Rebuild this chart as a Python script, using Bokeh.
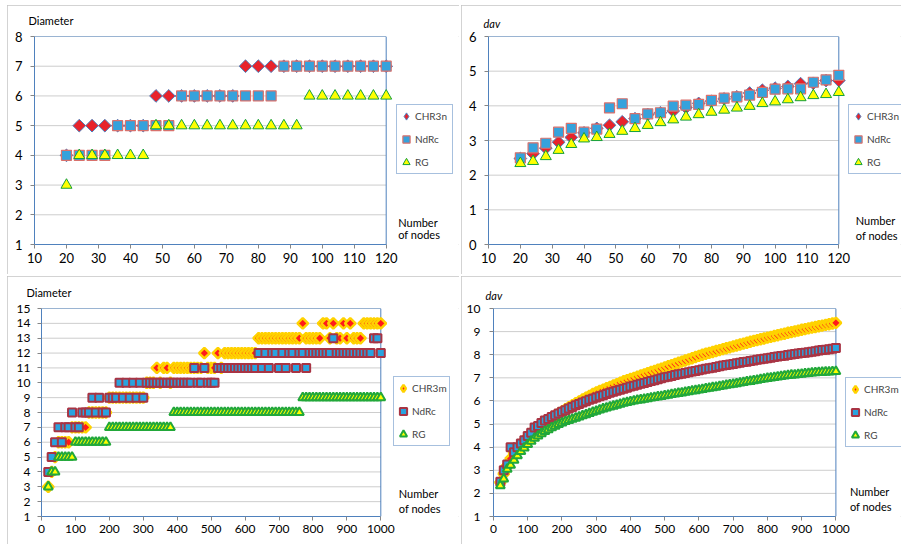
import numpy as np
from bokeh.plotting import figure
from bokeh.models import Range1d, Legend, LegendItem, Label, FixedTicker, Spacer
from bokeh.layouts import column, row
from bokeh.embed import file_html
from bokeh.resources import INLINE

# ---------------- data ----------------
# top charts: number of nodes 20..120 step 4
top_x = [20, 24, 28, 32, 36, 40, 44, 48, 52, 56, 60, 64, 68, 72, 76, 80, 84, 88, 92, 96, 100, 104, 108, 112, 116, 120]

tl_chr3n = [4, 5, 5, 5, 5, 5, 5, 6, 6, 6, 6, 6, 6, 6, 7, 7, 7, 7, 7, 7, 7, 7, 7, 7, 7, 7]
tl_ndrc = [4, 4, 4, 4, 5, 5, 5, 5, 5, 6, 6, 6, 6, 6, 6, 6, 6, 7, 7, 7, 7, 7, 7, 7, 7, 7]
tl_rg = [3, 4, 4, 4, 4, 4, 4, 5, 5, 5, 5, 5, 5, 5, 5, 5, 5, 5, 5, 6, 6, 6, 6, 6, 6, 6]

tr_chr3n = [2.48, 2.62, 2.78, 2.95, 3.09, 3.22, 3.35, 3.44, 3.54, 3.63, 3.75, 3.80, 3.85,
            3.95, 4.07, 4.13, 4.20, 4.26, 4.37, 4.45, 4.51, 4.56, 4.64, 4.65, 4.73, 4.73]
tr_ndrc = [2.50, 2.79, 2.92, 3.24, 3.35, 3.24, 3.33, 3.94, 4.06, 3.63, 3.77, 3.80, 3.99,
           4.02, 4.04, 4.16, 4.22, 4.26, 4.31, 4.39, 4.48, 4.49, 4.49, 4.68, 4.75, 4.88]
tr_rg = [2.34, 2.40, 2.54, 2.72, 2.89, 3.05, 3.09, 3.18, 3.27, 3.35, 3.44, 3.52, 3.60,
         3.68, 3.75, 3.82, 3.88, 3.94, 3.99, 4.07, 4.12, 4.18, 4.24, 4.30, 4.33, 4.39]

# bottom charts: number of nodes 20..1000 step 10
bot_x = list(range(20, 1001, 10))

bl_chr3m = [3, 4, 5, 6, 6, 6, 6, 7, 7, 7,
            7, 7, 8, 8, 8, 8, 8, 8, 9, 9,
            9, 9, 9, 9, 9, 9, 9, 9, 9, 10,
            10, 10, 11, 10, 11, 11, 10, 11, 11, 11,
            11, 11, 11, 11, 11, 11, 12, 11, 11, 11,
            12, 11, 12, 12, 12, 12, 12, 12, 12, 12,
            12, 12, 13, 13, 13, 13, 13, 13, 13, 13,
            13, 13, 13, 13, 13, 14, 13, 13, 13, 13,
            13, 14, 14, 13, 14, 13, 13, 14, 13, 14,
            13, 13, 13, 14, 14, 14, 14, 14, 14]
bl_ndrc = [4, 5, 6, 7, 6, 7, 7, 8, 7, 7,
           8, 8, 8, 9, 8, 9, 8, 8, 9, 9,
           9, 10, 9, 10, 9, 10, 9, 10, 9, 10,
           10, 10, 10, 10, 10, 10, 10, 10, 10, 10,
           10, 10, 10, 11, 10, 10, 11, 10, 10, 10,
           11, 11, 11, 11, 11, 11, 11, 11, 11, 11,
           11, 11, 12, 11, 12, 11, 12, 12, 11, 12,
           11, 12, 12, 11, 12, 12, 11, 12, 12, 12,
           12, 12, 12, 12, 13, 12, 12, 12, 12, 12,
           12, 12, 12, 12, 12, 12, 13, 13, 12]
bl_rg = [3, 4, 4, 5, 5, 5, 5, 5, 6, 6,
         6, 6, 6, 6, 6, 6, 6, 6, 7, 7,
         7, 7, 7, 7, 7, 7, 7, 7, 7, 7,
         7, 7, 7, 7, 7, 7, 7, 8, 8, 8,
         8, 8, 8, 8, 8, 8, 8, 8, 8, 8,
         8, 8, 8, 8, 8, 8, 8, 8, 8, 8,
         8, 8, 8, 8, 8, 8, 8, 8, 8, 8,
         8, 8, 8, 8, 8, 9, 9, 9, 9, 9,
         9, 9, 9, 9, 9, 9, 9, 9, 9, 9,
         9, 9, 9, 9, 9, 9, 9, 9, 9]

br_chr3m = [2.48, 2.85, 3.20, 3.50, 3.75, 3.92, 4.10, 4.28, 4.45, 4.60,
            4.73, 4.85, 4.96, 5.06, 5.16, 5.26, 5.36, 5.46, 5.55, 5.64,
            5.73, 5.82, 5.90, 5.98, 6.06, 6.14, 6.22, 6.30, 6.37, 6.43,
            6.49, 6.55, 6.61, 6.67, 6.73, 6.79, 6.85, 6.90, 6.95, 7.00,
            7.05, 7.10, 7.15, 7.20, 7.25, 7.30, 7.35, 7.40, 7.45, 7.50,
            7.55, 7.60, 7.65, 7.70, 7.75, 7.80, 7.85, 7.90, 7.95, 8.00,
            8.04, 8.08, 8.12, 8.16, 8.20, 8.24, 8.28, 8.32, 8.36, 8.40,
            8.44, 8.48, 8.52, 8.56, 8.60, 8.63, 8.67, 8.70, 8.74, 8.77,
            8.81, 8.84, 8.88, 8.91, 8.95, 8.98, 9.01, 9.04, 9.08, 9.11,
            9.14, 9.17, 9.20, 9.23, 9.26, 9.29, 9.32, 9.35, 9.38]
br_ndrc = [2.50, 3.00, 3.25, 4.00, 3.78, 4.00, 4.16, 4.30, 4.48, 4.62,
           4.85, 4.92, 5.05, 5.15, 5.22, 5.30, 5.38, 5.46, 5.53, 5.60,
           5.67, 5.74, 5.81, 5.87, 5.93, 5.99, 6.05, 6.10, 6.15, 6.20,
           6.25, 6.30, 6.35, 6.40, 6.44, 6.48, 6.53, 6.57, 6.62, 6.66,
           6.70, 6.74, 6.78, 6.82, 6.86, 6.90, 6.94, 6.98, 7.02, 7.05,
           7.08, 7.12, 7.15, 7.18, 7.21, 7.24, 7.27, 7.30, 7.33, 7.36,
           7.39, 7.42, 7.44, 7.47, 7.50, 7.53, 7.55, 7.58, 7.60, 7.63,
           7.65, 7.68, 7.70, 7.73, 7.75, 7.78, 7.80, 7.83, 7.85, 7.87,
           7.90, 7.92, 7.94, 7.96, 7.99, 8.01, 8.03, 8.05, 8.07, 8.09,
           8.11, 8.13, 8.15, 8.18, 8.20, 8.22, 8.24, 8.26, 8.29]
br_rg = [2.34, 2.63, 3.05, 3.22, 3.44, 3.63, 3.82, 3.97, 4.12, 4.26,
         4.39, 4.49, 4.59, 4.68, 4.76, 4.84, 4.91, 4.98, 5.05, 5.11,
         5.16, 5.21, 5.26, 5.31, 5.36, 5.41, 5.46, 5.51, 5.56, 5.61,
         5.66, 5.70, 5.74, 5.78, 5.82, 5.86, 5.90, 5.94, 5.97, 6.00,
         6.03, 6.05, 6.08, 6.10, 6.13, 6.15, 6.18, 6.20, 6.23, 6.25,
         6.28, 6.30, 6.33, 6.35, 6.38, 6.40, 6.43, 6.45, 6.48, 6.50,
         6.53, 6.55, 6.58, 6.60, 6.63, 6.65, 6.68, 6.70, 6.73, 6.75,
         6.78, 6.80, 6.83, 6.85, 6.88, 6.90, 6.93, 6.95, 6.98, 7.00,
         7.02, 7.04, 7.06, 7.08, 7.10, 7.12, 7.13, 7.15, 7.16, 7.18,
         7.19, 7.21, 7.22, 7.23, 7.24, 7.25, 7.26, 7.27, 7.28]

top_xticks = [10, 20, 30, 40, 50, 60, 70, 80, 90, 100, 110, 120]
bot_xticks = [0, 100, 200, 300, 400, 500, 600, 700, 800, 900, 1000]
tl_yticks = [1, 2, 3, 4, 5, 6, 7, 8]
tr_yticks = [0, 1, 2, 3, 4, 5, 6]
bl_yticks = [1, 2, 3, 4, 5, 6, 7, 8, 9, 10, 11, 12, 13, 14, 15]
br_yticks = [1, 2, 3, 4, 5, 6, 7, 8, 9, 10]

# ---------------- styling ----------------
FONT = "Lato"
BLUE = "#4f81bd"
GRID = "#9a9a9a"
TICK = "#868686"
PANEL = "#c4c4c4"

TOP_STYLES = [
    dict(marker="square", angle=np.pi / 4, size=9, fill_color="#e8232b", line_color="#4f81bd", line_width=1),
    dict(marker="square", size=10, fill_color="#35a2dc", line_color="#d9716c", line_width=1.2),
    dict(marker="triangle", size=11, fill_color="#ffff00", line_color="#14a03c", line_width=1),
]
BOT_STYLES = [
    dict(marker="square", angle=np.pi / 4, size=7.5, fill_color="#ff1a1a", line_color="#ffd200", line_width=2.5),
    dict(marker="square", size=8, fill_color="#29a3df", line_color="#a83444", line_width=2),
    dict(marker="triangle", size=9, fill_color="#ffff00", line_color="#22a83a", line_width=2),
]


def panel(w, h, left, top, bottom, xlim, ylim, plot_w, xt, yt, fs, ystand):
    # the frame runs to the right edge so that legend and side texts stay visible;
    # the data area itself is xlim x ylim
    frame_w = w - left
    x_end = xlim[0] + (xlim[1] - xlim[0]) * frame_w / plot_w
    p = figure(width=w, height=h, x_range=Range1d(xlim[0], x_end), y_range=Range1d(*ylim),
               output_backend="svg", toolbar_location=None, tools="",
               min_border_left=left, min_border_right=0, min_border_top=top, min_border_bottom=bottom,
               background_fill_color="white", border_fill_color="white",
               outline_line_color=None,
               styles={"outline": "1px solid " + PANEL, "outline-offset": "-1px"})
    p.xaxis.ticker = FixedTicker(ticks=xt)
    p.yaxis.ticker = FixedTicker(ticks=yt)
    p.xaxis.bounds = xlim
    p.yaxis.bounds = ylim
    for ax in (p.xaxis[0], p.yaxis[0]):
        ax.axis_line_color = BLUE
        ax.major_tick_line_color = TICK
        ax.major_tick_in = 0
        ax.major_tick_out = 4
        ax.minor_tick_line_color = None
        ax.major_label_text_font = FONT
        ax.major_label_text_font_size = fs
        ax.major_label_text_color = "black"
    p.xaxis.major_label_standoff = 4
    p.yaxis.major_label_standoff = ystand
    p.xgrid.visible = False
    p.ygrid.visible = False
    # dotted horizontal gridlines across the data area only
    p.segment(x0=[xlim[0]] * len(yt), x1=[xlim[1]] * len(yt), y0=yt, y1=yt,
              line_color=GRID, line_dash="1 1", line_width=1)
    # border of the data area
    p.quad(left=[xlim[0]], right=[xlim[1]], bottom=[ylim[0]], top=[ylim[1]],
           fill_color=None, line_color=BLUE, line_width=1)
    return p


def add_series(p, x, ys, styles, names, loc):
    rs = [p.scatter(x, y, **st) for y, st in zip(ys, styles)]
    # hidden twin of the diamond series, used only for its (unrotated) legend key
    dst = dict(styles[0])
    dst.pop("angle")
    dst["marker"] = "diamond"
    diamond_key = p.scatter(x, ys[0], visible=False, **dst)
    leg_rs = [diamond_key, rs[1], rs[2]]
    leg = Legend(items=[LegendItem(label=n, renderers=[r]) for n, r in zip(names, leg_rs)],
                 location=loc, orientation="vertical",
                 label_text_font=FONT, label_text_font_size="10px",
                 glyph_width=18, glyph_height=22, label_height=22, label_width=37,
                 label_standoff=0, padding=0, spacing=1, margin=0,
                 border_line_color=BLUE, border_line_width=1,
                 background_fill_color="white", background_fill_alpha=1.0)
    p.add_layout(leg)


def lab(p, text, x, y, xo, yo, italic=False, place=None):
    l = Label(x=x, y=y, x_offset=xo, y_offset=yo, text=text,
              text_font=FONT, text_font_size="11px", text_color="black",
              text_baseline="middle", text_align="left",
              text_font_style="italic" if italic else "normal")
    if place is None:
        p.add_layout(l)
    else:
        p.add_layout(l, place)


# top-left: Diameter, small graphs
tl = panel(452, 269, 27, 31, 30, (10, 120), (1, 8), 351.7, top_xticks, tl_yticks, "13px", 8)
add_series(tl, top_x, [tl_chr3n, tl_ndrc, tl_rg], TOP_STYLES, ["CHR3n", "NdRc", "RG"], (362, 70))
lab(tl, "Diameter", 10, 8, -6, 16, place="above")
lab(tl, "Number", 120, 1, 12, 22)
lab(tl, "of nodes", 120, 1, 12, 10)

# top-right: dav, small graphs
tr = panel(440, 269, 27, 28, 30, (10, 120), (0, 6), 350.3, top_xticks, tr_yticks, "13px", 8)
add_series(tr, top_x, [tr_chr3n, tr_ndrc, tr_rg], TOP_STYLES, ["CHR3n", "NdRc", "RG"], (360, 70))
lab(tr, "dav", 10, 6, -5, 13, italic=True, place="above")
lab(tr, "Number", 120, 0, 17, 24)
lab(tr, "of nodes", 120, 0, 17, 9)

# bottom-left: Diameter, large graphs
bl = panel(452, 268, 34, 32, 27, (0, 1000), (1, 15), 339.3, bot_xticks, bl_yticks, "12px", 7)
add_series(bl, bot_x, [bl_chr3m, bl_ndrc, bl_rg], BOT_STYLES, ["CHR3m", "NdRc", "RG"], (352, 70))
lab(bl, "Diameter", 0, 15, -15, 16, place="above")
lab(bl, "Number", 1000, 1, 18, 23)
lab(bl, "of nodes", 1000, 1, 18, 8)

# bottom-right: dav, large graphs
br = panel(440, 268, 32, 28, 28, (0, 1000), (1, 10), 342.4, bot_xticks, br_yticks, "12px", 9)
add_series(br, bot_x, [br_chr3m, br_ndrc, br_rg], BOT_STYLES, ["CHR3m", "NdRc", "RG"], (352, 69))
lab(br, "dav", 0, 10, -8, 13, italic=True, place="above")
lab(br, "Number", 1000, 1, 14, 25)
lab(br, "of nodes", 1000, 1, 14, 10)

top_row = row(Spacer(width=7, height=269), tl, Spacer(width=2, height=269), tr)
bot_row = row(Spacer(width=7, height=268), bl, Spacer(width=2, height=268), br)
layout = column(Spacer(width=901, height=5), top_row, Spacer(width=901, height=2), bot_row)

open("out.html", "w").write(file_html(layout, INLINE))
